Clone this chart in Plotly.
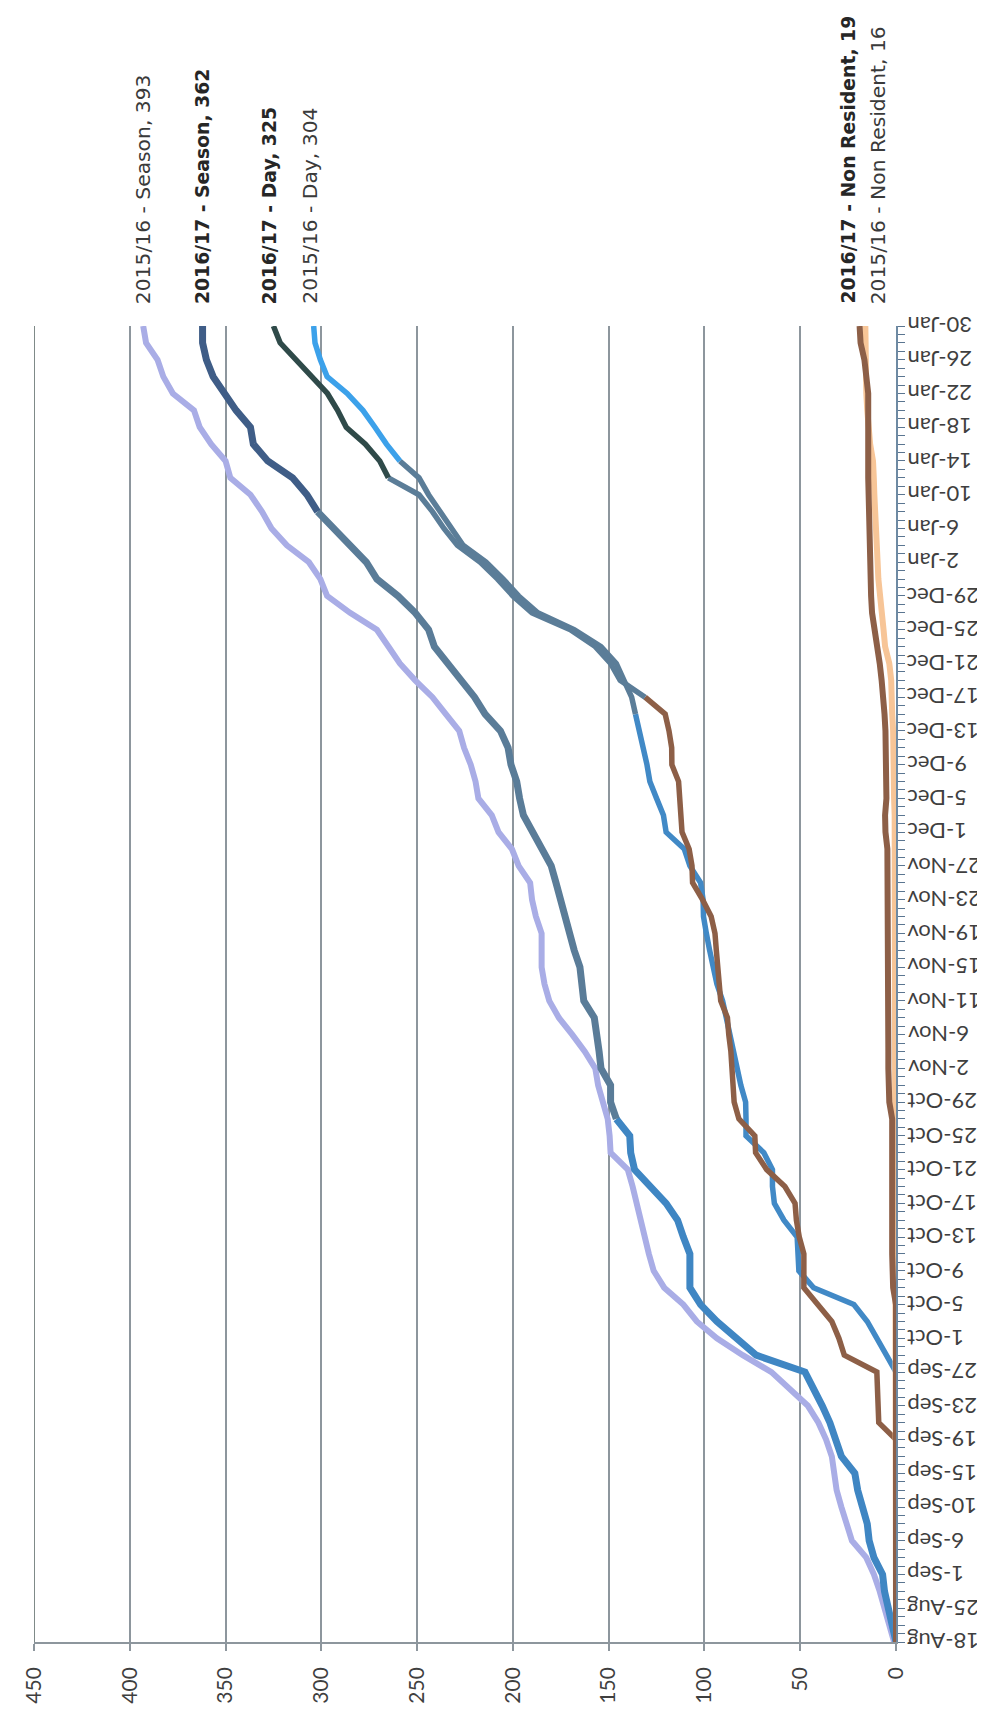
import plotly.graph_objects as go

# ---- categories (one entry per data day on the category axis; labels every 4th day) ----
DATE_LABELS = ["18-Aug", "25-Aug", "1-Sep", "6-Sep", "10-Sep", "15-Sep", "19-Sep", "23-Sep",
               "27-Sep", "1-Oct", "5-Oct", "9-Oct", "13-Oct", "17-Oct", "21-Oct", "25-Oct",
               "29-Oct", "2-Nov", "6-Nov", "11-Nov", "15-Nov", "19-Nov", "23-Nov", "27-Nov",
               "1-Dec", "5-Dec", "9-Dec", "13-Dec", "17-Dec", "21-Dec", "25-Dec", "29-Dec",
               "2-Jan", "6-Jan", "10-Jan", "14-Jan", "18-Jan", "22-Jan", "26-Jan", "30-Jan"]
LABEL_DAYS = [4 * k for k in range(len(DATE_LABELS))]   # category index of each labelled day
N_DAYS = 157                                            # categories 0..156
SAMPLE_DAYS = list(range(0, N_DAYS, 2))                 # categories at which values were read

# ---- series values (cumulative counts), read at SAMPLE_DAYS ----
season_1516 = [1, 3.5, 5.5, 8.5, 11.5, 15.5, 23, 26, 28.5, 31,
               32.5, 33.5, 36.5, 40.5, 46, 55, 65, 80, 93.5, 104,
               111, 121, 126.5, 129, 131, 133.5, 135.5, 137.5, 140, 149,
               149.5, 150.5, 153, 155.5, 157, 162.5, 169, 176, 181, 183.5,
               185, 185, 185, 188, 190, 191, 197, 200.5, 207.5, 211,
               218, 219.5, 222, 225.5, 228, 235, 242, 251, 259, 265,
               271, 285, 297, 300.5, 306.5, 318, 326, 331, 337, 347.5,
               350, 357.5, 363.5, 366.5, 377.5, 382.5, 385.5, 391.5, 393]

season_1617 = [0, 2, 4.5, 6, 7, 11.5, 14, 15, 17.5, 20,
               21.5, 28.5, 31.5, 34.5, 38.5, 42.5, 47.5, 73, 83, 93.5,
               102, 107.6, 107.6, 107.6, 111, 114, 120, 128.5, 136.5, 138.5,
               139, 146, 149, 149, 154, 155, 156, 157.5, 163, 164,
               165, 168, 170.6, 173, 175, 177.5, 180, 185, 189.5, 194.5,
               196.5, 198, 201, 202.5, 206.5, 214.5, 220, 227, 234.5, 241,
               244, 251, 260, 271, 276.5, 285, 293, 302, 307.5, 315,
               328, 335.5, 337, 344.5, 350, 356.5, 360, 362, 362]

day_1516 = [0, 0, 0, 0, 0, 0, 0, 0, 0, 0,
            0, 0, 0, 0, 0, 0, 0, 5, 10, 15,
            22, 43, 50.7, 51, 51.6, 58.5, 63.5, 64.5, 64.5, 69,
            78.3, 78.3, 78.5, 81, 83, 85, 87, 88.5, 90.5, 93.5,
            95.6, 97.3, 99, 100.5, 100.7, 102, 107.6, 110.5, 120, 121.4,
            125, 128.5, 130, 131.8, 134, 136, 138, 142, 146, 154,
            168, 187, 197, 205, 214, 226, 232, 238, 244, 249,
            259, 266, 272, 278.3, 286.5, 297, 300.5, 303.3, 304]

day_1617 = [0, 0, 0, 0, 0, 0, 0, 0, 0, 0,
            0, 0, 0, 9, 9.3, 9.3, 10, 27, 29.8, 33.5,
            41, 48.1, 48.1, 48.1, 50.5, 52, 52.7, 58, 67.5, 73.3,
            73.7, 82, 84.5, 85, 85.2, 86.2, 87.3, 88, 91.5, 92.5,
            93.3, 93.8, 94.5, 96.5, 101, 106.2, 106.5, 108, 111.7, 112.3,
            112.5, 113.5, 117, 117.1, 118.5, 120.5, 131, 144, 149, 157,
            170, 190, 200, 208, 217, 229, 236, 242, 249, 265,
            269.5, 277, 287, 291.5, 296.8, 305, 313, 321.5, 325]

nonres_1617 = [0, 0, 0, 0, 0, 0, 0, 0, 0, 0,
               0, 0, 0, 0, 0, 0, 0, 0, 0, 0,
               0, 1.5, 2, 2, 2, 2, 2, 2, 2, 2,
               2, 2, 3.5, 4, 4, 4, 4, 4, 4, 4,
               4, 4, 4, 4, 4, 4, 4, 4.5, 5.5, 5.7,
               5, 5, 5, 5.2, 5.5, 6, 6.5, 7.5, 8.5, 10,
               11.5, 12.5, 13, 13.3, 13.6, 14, 14.3, 14.5, 14.5, 14.5,
               14.5, 14.5, 14.5, 14.5, 14.5, 15.5, 16.5, 18.5, 19]

nonres_1516 = [0, 0, 0, 0, 0, 0, 0, 0, 0, 0,
               0, 0, 0, 0, 0, 0, 0, 0, 0, 0,
               0, 0, 0, 0, 0, 0, 0, 0, 0, 0,
               0.7, 0.7, 0.7, 0.7, 0.7, 0.7, 0.7, 0.7, 0.7, 0.7,
               0.7, 0.7, 0.7, 0.7, 0.7, 0.7, 0.7, 0.7, 0.7, 0.7,
               1, 1, 1.5, 1.5, 1.5, 2, 2, 2.5, 3.5, 5.7,
               6.5, 7.5, 8.5, 9.2, 9.6, 10.2, 10.5, 11, 11.3, 11.6,
               12, 13.5, 14.5, 15, 15.5, 15.8, 16, 16, 16]

END_LABELS = ["2015/16 - Season, 393", "2016/17 - Season, 362", "2016/17 - Day, 325",
              "2015/16 - Day, 304", "2016/17 - Non Resident, 19", "2015/16 - Non Resident, 16"]

# ---- styles (colour per stretch of categories, as the printed chart shows) ----
SERIES = [
    ("S16", season_1516, 6, [(0, 156, "#a9ade6")]),
    ("S17", season_1617, 7, [(0, 62, "#3f86c3"), (62, 134, "#5a7c98"), (134, 156, "#3f5d87")]),
    ("D15", day_1516, 5.5, [(0, 110, "#4189c6"), (110, 140, "#5b7d98"), (140, 156, "#3ca1ea")]),
    ("D17", day_1617, 5.5, [(0, 112, "#8d5f47"), (112, 138, "#5b7d98"), (138, 156, "#2f4a49")]),
    ("N15", nonres_1516, 6, [(0, 156, "#f7c597")]),
    ("N17", nonres_1617, 6, [(0, 156, "#8d5f47")]),
]

fig = go.Figure()
for name, vals, width, segs in SERIES:
    for a, b, col in segs:
        xs = [v for d, v in zip(SAMPLE_DAYS, vals) if a <= d <= b]
        ys = [d for d in SAMPLE_DAYS if a <= d <= b]
        fig.add_trace(go.Scatter(x=xs, y=ys, mode="lines", name=name,
                                 line=dict(color=col, width=width),
                                 hoverinfo="skip", showlegend=False))

GRID = "#8d969d"
fig.update_layout(
    width=985, height=1727,
    margin=dict(l=18, r=97, t=318, b=93),
    plot_bgcolor="white", paper_bgcolor="white",
    showlegend=False,
    xaxis=dict(range=[450, 0], tickvals=list(range(0, 451, 50)),
               showgrid=True, gridcolor=GRID, gridwidth=1.5, zeroline=False,
               showline=True, linecolor=GRID, linewidth=1.5,
               ticks="outside", ticklen=7, tickcolor=GRID, tickwidth=1.5,
               tickangle=-90, ticklabelstandoff=8,
               tickfont=dict(family="Lato", size=21, color="#3f3f3f")),
    yaxis=dict(range=[0, N_DAYS - 1], side="right",
               showgrid=False, zeroline=False,
               showline=True, linecolor="#6e8aa3", linewidth=1.5,
               ticks="outside", tickvals=list(range(N_DAYS)), ticklen=7,
               tickcolor="#5a7590", tickwidth=1.2, showticklabels=False),
)

# left border of the plot (the 450 line)
fig.add_shape(type="line", xref="x", yref="paper", x0=450, x1=450, y0=0, y1=1,
              line=dict(color="#7f8a88", width=2))

# date labels (upside down, as in the turned page)
for d, lab in zip(LABEL_DAYS, DATE_LABELS):
    fig.add_annotation(x=1, xref="paper", y=d, yref="y", text=lab, textangle=180,
                       showarrow=False, xanchor="left", yanchor="middle", xshift=9,
                       font=dict(family="Lato", size=22, color="#3f3f3f"))

# end-of-series labels
end_vals = [season_1516[-1], season_1617[-1], day_1617[-1], day_1516[-1],
            nonres_1617[-1], nonres_1516[-1]]
bold = [False, True, True, False, True, False]
shifts = [0, 0, -4, -4, -12, 13]
for lab, v, b, sh in zip(END_LABELS, end_vals, bold, shifts):
    fig.add_annotation(x=v, xref="x", y=1, yref="paper", text=f"<b>{lab}</b>" if b else lab,
                       textangle=-90, showarrow=False, xanchor="center", yanchor="bottom",
                       xshift=sh, yshift=20,
                       font=dict(family="DejaVu Sans", size=18.8 if b else 20.3,
                                 color="#262626" if b else "#3a3a3a"))

fig.write_html("out.html")
